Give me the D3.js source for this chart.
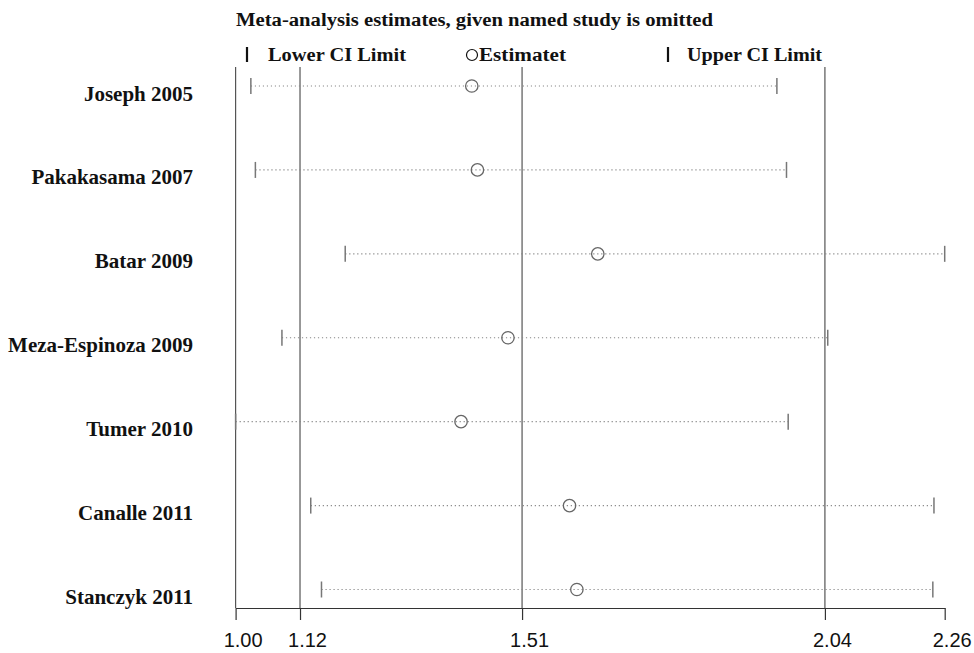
<!DOCTYPE html>
<html>
<head>
<meta charset="utf-8">
<script src="https://cdn.jsdelivr.net/npm/d3@7"></script>
<style>
  html, body { margin: 0; padding: 0; background: #fff; }
  svg { display: block; }
</style>
</head>
<body>
<svg id="chart" width="974" height="653"></svg>
<script>
const studies = ["Joseph 2005", "Pakakasama 2007", "Batar 2009", "Meza-Espinoza 2009", "Tumer 2010", "Canalle 2011", "Stanczyk 2011"];
const estimates = [1.419, 1.429, 1.642, 1.483, 1.400, 1.592, 1.605];
const lowerCI = [1.028, 1.036, 1.195, 1.083, 1.001, 1.134, 1.153];
const upperCI = [1.959, 1.976, 2.256, 2.049, 1.979, 2.237, 2.235];
const tickValues = [1.001, 1.115, 1.508, 2.044, 2.256];
const tickLabels = ["1.00", "1.12", "1.51", "2.04", "2.26"];
const refLines = [1.001, 1.115, 1.508, 2.044];
const titleText = "Meta-analysis estimates, given named study is omitted";
const legendLabels = ["Lower CI Limit", "Estimatet", "Upper CI Limit"];

const svg = d3.select("#chart");
const serif = "'Liberation Serif', 'Times New Roman', serif";
const sans = "'Liberation Sans', Arial, sans-serif";

const x = d3.scaleLinear().domain([tickValues[0], tickValues[tickValues.length - 1]]).range([235.6, 944.7]);
const y = d3.scalePoint().domain(studies).range([86, 589.5]);
const axisY = 608;
const topY = 67;

// title
svg.append("text").attr("x", 236).attr("y", 26)
  .attr("font-family", serif).attr("font-weight", "bold").attr("font-size", 18.5)
  .attr("textLength", 477).attr("lengthAdjust", "spacingAndGlyphs")
  .attr("fill", "#111").text(titleText);

// legend
const lg = svg.append("g");
lg.append("line").attr("x1", 247).attr("x2", 247).attr("y1", 47).attr("y2", 62).attr("stroke", "#111").attr("stroke-width", 2.2);
lg.append("text").attr("x", 268).attr("y", 61).attr("font-family", serif).attr("font-weight", "bold").attr("font-size", 18.5)
  .attr("textLength", 138).attr("lengthAdjust", "spacingAndGlyphs").attr("fill", "#111").text(legendLabels[0]);
lg.append("circle").attr("cx", 472).attr("cy", 55).attr("r", 5.5).attr("fill", "none").attr("stroke", "#111").attr("stroke-width", 1.2);
lg.append("text").attr("x", 479).attr("y", 61).attr("font-family", serif).attr("font-weight", "bold").attr("font-size", 18.5)
  .attr("textLength", 87).attr("lengthAdjust", "spacingAndGlyphs").attr("fill", "#111").text(legendLabels[1]);
lg.append("line").attr("x1", 668).attr("x2", 668).attr("y1", 47).attr("y2", 62).attr("stroke", "#111").attr("stroke-width", 2.2);
lg.append("text").attr("x", 687).attr("y", 61).attr("font-family", serif).attr("font-weight", "bold").attr("font-size", 18.5)
  .attr("textLength", 135).attr("lengthAdjust", "spacingAndGlyphs").attr("fill", "#111").text(legendLabels[2]);

// reference vertical lines
svg.append("g").selectAll("line").data(refLines).join("line")
  .attr("x1", d => x(d)).attr("x2", d => x(d))
  .attr("y1", topY).attr("y2", axisY)
  .attr("stroke", "#555").attr("stroke-width", 1.2);

// x axis
const axis = d3.axisBottom(x).tickValues(tickValues).tickFormat((d, i) => tickLabels[i]).tickSize(12).tickSizeOuter(0);
const ag = svg.append("g").attr("transform", `translate(0,${axisY})`).call(axis);
ag.select(".domain").attr("stroke", "#333").attr("stroke-width", 1.2);
ag.selectAll(".tick line").attr("stroke", "#333").attr("stroke-width", 1.2);
ag.selectAll(".tick text").attr("font-family", sans).attr("font-size", 20).attr("fill", "#111")
  .attr("dy", 0).attr("y", 39).attr("dx", 7);

// rows
const rows = svg.append("g").selectAll("g").data(studies).join("g");
rows.append("line")
  .attr("x1", (d, i) => x(lowerCI[i])).attr("x2", (d, i) => x(upperCI[i]))
  .attr("y1", d => y(d)).attr("y2", d => y(d))
  .attr("stroke", "#888").attr("stroke-width", 1.2).attr("stroke-dasharray", "1.2 2.8");
rows.append("line")
  .attr("x1", (d, i) => x(lowerCI[i])).attr("x2", (d, i) => x(lowerCI[i]))
  .attr("y1", d => y(d) - 8).attr("y2", d => y(d) + 8)
  .attr("stroke", "#777").attr("stroke-width", 1.5);
rows.append("line")
  .attr("x1", (d, i) => x(upperCI[i])).attr("x2", (d, i) => x(upperCI[i]))
  .attr("y1", d => y(d) - 8).attr("y2", d => y(d) + 8)
  .attr("stroke", "#777").attr("stroke-width", 1.5);
rows.append("circle")
  .attr("cx", (d, i) => x(estimates[i])).attr("cy", d => y(d)).attr("r", 6.2)
  .attr("fill", "none").attr("stroke", "#666").attr("stroke-width", 1.3);

// study labels
svg.append("g").selectAll("text").data(studies).join("text")
  .attr("x", 193).attr("y", d => y(d) + 14.5)
  .attr("text-anchor", "end")
  .attr("font-family", serif).attr("font-weight", "bold").attr("font-size", 21)
  .attr("fill", "#111").text(d => d);
</script>
</body>
</html>
